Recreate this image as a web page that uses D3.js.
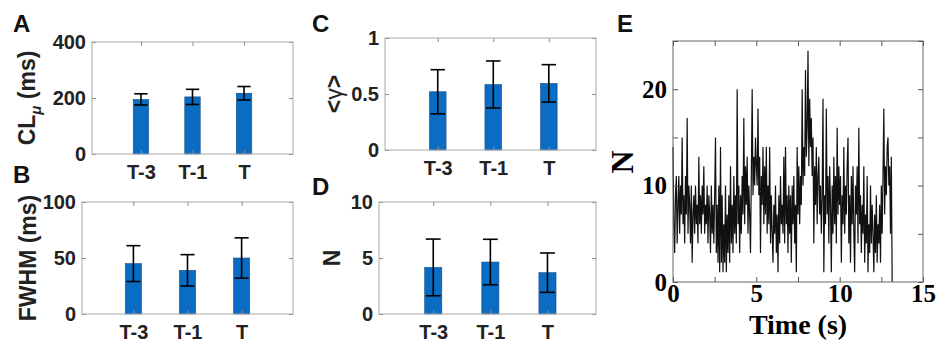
<!DOCTYPE html>
<html>
<head>
<meta charset="utf-8">
<script src="https://cdn.jsdelivr.net/npm/d3@7"></script>
<style>
  body { margin: 0; background: #fff; }
  svg { display: block; }
</style>
</head>
<body>
<div id="chart"></div>
<script>
// bar panels: mean and error (half length) per category
const categories = ["T-3", "T-1", "T"];
const clMean = [195, 204, 217], clErr = [20, 27, 24];
const fwhmMean = [45, 39, 50], fwhmErr = [16, 14, 18];
const gammaMean = [0.52, 0.585, 0.595], gammaErr = [0.197, 0.21, 0.167];
const nMean = [4.16, 4.64, 3.69], nErr = [2.53, 2.03, 1.76];

// panel E: N over time, one sample every dt seconds
const dt = 0.05;
const nTrace = [
  14, 6, 3, 9, 11, 4, 8, 11, 5, 10, 7, 15, 6, 9, 4, 11, 7, 17, 5, 10,
  8, 4, 10, 2, 7, 9, 5, 10, 6, 8, 4, 13, 6, 9, 5, 10, 7, 12, 5, 8,
  6, 10, 4, 9, 7, 3, 10, 5, 8, 4, 9, 15, 3, 8, 2, 10, 1, 14, 2, 9,
  1, 6, 2, 10, 1, 7, 3, 9, 2, 12, 4, 8, 3, 11, 5, 9, 4, 20, 6, 10,
  3, 9, 5, 11, 7, 17, 6, 12, 8, 13, 5, 10, 7, 3, 11, 20, 9, 13, 10, 15,
  12, 10, 18, 9, 13, 3, 11, 8, 14, 6, 12, 7, 14, 5, 10, 6, 14, 4, 9, 5,
  2, 8, 5, 10, 3, 7, 1, 9, 4, 11, 6, 8, 5, 13, 4, 14, 6, 9, 3, 10,
  5, 9, 2, 10, 6, 11, 4, 8, 1, 14, 7, 12, 6, 11, 8, 20, 10, 14, 11, 22,
  13, 16, 24, 12, 19, 14, 17, 11, 15, 4, 12, 8, 14, 6, 11, 13, 7, 10, 5, 9,
  19, 1, 9, 6, 18, 7, 11, 4, 12, 8, 1, 10, 5, 13, 6, 11, 4, 16, 7, 12,
  8, 11, 2, 9, 6, 14, 5, 10, 7, 12, 15, 4, 9, 2, 11, 6, 12, 5, 1, 10,
  7, 12, 4, 16, 6, 9, 3, 8, 5, 12, 2, 7, 4, 11, 1, 6, 3, 10, 4, 8,
  5, 1, 7, 3, 9, 2, 6, 4, 8, 2, 10, 5, 11, 18, 7, 12, 9, 14, 15, 10,
  12, 5, 13, 0
];

const W = 940, H = 344;
const sans = "'Liberation Sans', Arial, Helvetica, sans-serif";
const serif = "'Liberation Serif', 'Times New Roman', serif";

const svg = d3.select("#chart").append("svg")
  .attr("width", W).attr("height", H)
  .style("font-family", sans);

const panels = [
  { letter: "A", lx: 13, ly: 32, mean: clMean, err: clErr, yMax: 400, yTicks: [0, 200, 400],
    x0: 92, x1: 293, y0: 42, y1: 154, xDom: [0.05, 3.95], labelX: 35 },
  { letter: "B", lx: 13, ly: 183, mean: fwhmMean, err: fwhmErr, yMax: 100, yTicks: [0, 50, 100],
    x0: 82, x1: 293, y0: 202, y1: 314, xDom: [0.05, 3.95], labelX: 36 },
  { letter: "C", lx: 312, ly: 32, mean: gammaMean, err: gammaErr, yMax: 1, yTicks: [0, 0.5, 1],
    x0: 385, x1: 596, y0: 38, y1: 150, xDom: [0.05, 3.85], labelX: 342 },
  { letter: "D", lx: 312, ly: 195, mean: nMean, err: nErr, yMax: 10, yTicks: [0, 5, 10],
    x0: 379, x1: 596, y0: 202, y1: 314, xDom: [0.05, 3.85], labelX: 340 }
];

function barPanel(p) {
  const x = d3.scaleLinear().domain(p.xDom).range([p.x0, p.x1]);
  const y = d3.scaleLinear().domain([0, p.yMax]).range([p.y1, p.y0]);
  const g = svg.append("g");
  const idx = categories.map((c, i) => i + 1);

  g.selectAll("rect.bar").data(p.mean).join("rect")
    .attr("class", "bar")
    .attr("x", (d, i) => x(i + 1 - 0.15))
    .attr("width", x(1.15) - x(0.85))
    .attr("y", d => y(d))
    .attr("height", d => y(0) - y(d))
    .attr("fill", "#0a6cc2")
    .attr("stroke", "#1b4f86")
    .attr("stroke-width", 0.6);

  // error bars
  const eb = g.selectAll("g.eb").data(p.mean).join("g").attr("class", "eb")
    .attr("stroke", "#000").attr("stroke-width", 1.6);
  eb.append("line")
    .attr("x1", (d, i) => x(i + 1)).attr("x2", (d, i) => x(i + 1))
    .attr("y1", (d, i) => y(d - p.err[i])).attr("y2", (d, i) => y(d + p.err[i]));
  [-1, 1].forEach(s => {
    eb.append("line")
      .attr("x1", (d, i) => x(i + 1 - 0.13)).attr("x2", (d, i) => x(i + 1 + 0.13))
      .attr("y1", (d, i) => y(d + s * p.err[i])).attr("y2", (d, i) => y(d + s * p.err[i]));
  });

  const styleAxis = a => {
    a.select(".domain").remove();
    a.selectAll("line").attr("stroke", "#8c8c8c");
    a.selectAll("text").attr("font-family", sans).attr("font-size", 20)
      .attr("font-weight", "bold").attr("fill", "#222");
  };
  g.append("g").attr("transform", `translate(${p.x0},0)`)
    .call(d3.axisLeft(y).tickValues(p.yTicks).tickSize(-4).tickPadding(6)
      .tickFormat(d3.format("~g"))).call(styleAxis);
  g.append("g").attr("transform", `translate(${p.x1},0)`)
    .call(d3.axisRight(y).tickValues(p.yTicks).tickSize(-4).tickFormat("")).call(styleAxis);
  g.append("g").attr("transform", `translate(0,${p.y1})`)
    .call(d3.axisBottom(x).tickValues(idx).tickSize(-4).tickPadding(11)
      .tickFormat((d, i) => categories[i])).call(styleAxis);
  g.append("g").attr("transform", `translate(0,${p.y0})`)
    .call(d3.axisTop(x).tickValues(idx).tickSize(-4).tickFormat("")).call(styleAxis);

  g.append("rect")
    .attr("x", p.x0).attr("y", p.y0)
    .attr("width", p.x1 - p.x0).attr("height", p.y1 - p.y0)
    .attr("fill", "none").attr("stroke", "#a8a8a8").attr("stroke-width", 1);

  svg.append("text").attr("x", p.lx).attr("y", p.ly)
    .attr("font-size", 24).attr("font-weight", "bold").attr("fill", "#111")
    .text(p.letter);
  return g.append("text")
    .attr("transform", `translate(${p.labelX},${(p.y0 + p.y1) / 2}) rotate(-90)`)
    .attr("text-anchor", "middle")
    .attr("font-size", 23).attr("font-weight", "bold").attr("fill", "#222");
}

panels.forEach((p, k) => {
  const lab = barPanel(p);
  if (k === 0) {
    lab.append("tspan").text("CL");
    lab.append("tspan").attr("font-style", "italic").attr("font-size", 15).attr("dy", 6).text("μ");
    lab.append("tspan").attr("dy", -6).text(" (ms)");
  } else if (k === 1) {
    lab.text("FWHM (ms)");
  } else if (k === 2) {
    lab.append("tspan").text("<");
    lab.append("tspan").attr("font-weight", "normal").text("γ");
    lab.append("tspan").text(">");
  } else {
    lab.text("N");
  }
});

// panel E: time series
const ex = d3.scaleLinear().domain([0, 15]).range([673, 923]);
const ey = d3.scaleLinear().domain([0, 25]).range([282, 41]);
const ge = svg.append("g");

ge.append("path")
  .datum(nTrace)
  .attr("d", d3.line().x((d, i) => ex(i * dt)).y(d => ey(d)))
  .attr("fill", "none")
  .attr("stroke", "#111")
  .attr("stroke-width", 1.2);

const styleE = a => {
  a.select(".domain").remove();
  a.selectAll("line").attr("stroke", "#555");
  a.selectAll("text").attr("font-family", serif).attr("font-size", 25)
    .attr("font-weight", "bold").attr("fill", "#000");
};
const xt = d3.range(0, 15.01, 2.5), yt = d3.range(0, 25.01, 5);
ge.append("g").attr("transform", "translate(0,282)")
  .call(d3.axisBottom(ex).tickValues(xt).tickSize(-5).tickPadding(2)
    .tickFormat(d => d % 5 === 0 ? d : "")).call(styleE);
ge.append("g").attr("transform", "translate(0,41)")
  .call(d3.axisTop(ex).tickValues(xt).tickSize(-5).tickFormat("")).call(styleE);
ge.append("g").attr("transform", "translate(673,0)")
  .call(d3.axisLeft(ey).tickValues(yt).tickSize(-5).tickPadding(6)
    .tickFormat(d => d % 10 === 0 ? d : "")).call(styleE);
ge.append("g").attr("transform", "translate(923,0)")
  .call(d3.axisRight(ey).tickValues(yt).tickSize(-5).tickFormat("")).call(styleE);

ge.append("rect")
  .attr("x", 673).attr("y", 41).attr("width", 250).attr("height", 241)
  .attr("fill", "none").attr("stroke", "#666").attr("stroke-width", 1);

ge.append("text").attr("x", 798).attr("y", 334)
  .attr("text-anchor", "middle").attr("font-family", serif)
  .attr("font-size", 28).attr("font-weight", "bold")
  .text("Time (s)");
ge.append("text").attr("transform", "translate(633,162) rotate(-90)")
  .attr("text-anchor", "middle").attr("font-family", serif)
  .attr("font-size", 32).attr("font-weight", "bold")
  .text("N");
svg.append("text").attr("x", 617).attr("y", 32)
  .attr("font-size", 24).attr("font-weight", "bold").attr("fill", "#111")
  .text("E");
</script>
</body>
</html>
